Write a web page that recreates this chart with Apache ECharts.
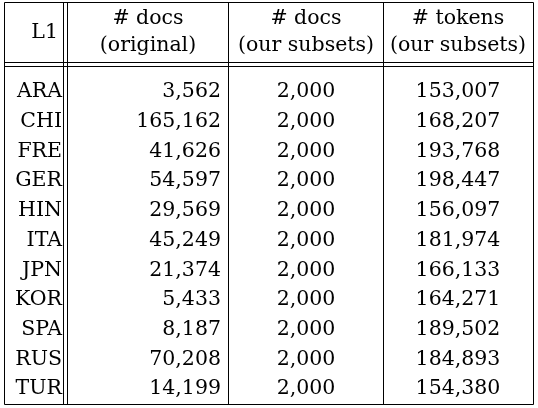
<!DOCTYPE html>
<html><head><meta charset="utf-8">
<script src="https://cdn.jsdelivr.net/npm/echarts@6/dist/echarts.min.js"></script>
<style>html,body{margin:0;padding:0;background:#fff}#c{width:538px;height:408px}</style>
</head><body><div id="c"></div>
<script>
const l1 = ['ARA','CHI','FRE','GER','HIN','ITA','JPN','KOR','SPA','RUS','TUR'];
const docsOriginal = ['3,562','165,162','41,626','54,597','29,569','45,249','21,374','5,433','8,187','70,208','14,199'];
const docsSubset = ['2,000','2,000','2,000','2,000','2,000','2,000','2,000','2,000','2,000','2,000','2,000'];
const tokensSubset = ['153,007','168,207','193,768','198,447','156,097','181,974','166,133','164,271','189,502','184,893','154,380'];
const headerLine1 = ['L1','# docs','# docs','# tokens'];
const headerLine2 = ['','(original)','(our subsets)','(our subsets)'];

const font = '20.5px "DejaVu Serif", "Liberation Serif", serif';
const anchors = [[62,'right'],[221,'right'],[306,'center'],[458,'center']];
const headerX = [58,148,306,458];
const cells = [];
const cols = [l1, docsOriginal, docsSubset, tokensSubset];
l1.forEach((_, r) => cols.forEach((c, ci) => cells.push([ci, r, c[r]])));

const chart = echarts.init(document.getElementById('c'), null, {renderer:'canvas'});
const lineStyle = {stroke:'#000', lineWidth:1};
const vx = [4.5, 63.5, 67.5, 228.5, 383.5, 533.5];
const hy = [2.5, 62.5, 66.5, 404.5];
const graphics = [];
vx.forEach(x => graphics.push({type:'line', shape:{x1:x,y1:2.5,x2:x,y2:404.5}, style:lineStyle}));
hy.forEach(y => graphics.push({type:'line', shape:{x1:4.5,y1:y,x2:533.5,y2:y}, style:lineStyle}));
headerLine1.forEach((t,i)=>{
  graphics.push({type:'text', x: headerX[i], y: headerLine2[i]? 19 : 33,
    style:{text:t, font:font, fill:'#000', textAlign: i===0?'right':'center', textVerticalAlign:'middle'}});
  if (headerLine2[i]) graphics.push({type:'text', x: headerX[i], y:46,
    style:{text:headerLine2[i], font:font, fill:'#000', textAlign:'center', textVerticalAlign:'middle'}});
});

chart.setOption({
  animation:false,
  grid:{left:0,right:0,top:77,bottom:4},
  xAxis:{type:'value',min:0,max:538,show:false},
  yAxis:{type:'category',data:l1,inverse:true,show:false},
  graphic: graphics,
  series:[{
    type:'custom',
    data:cells,
    renderItem:(params, api)=>{
      const ci = api.value(0);
      const p = api.coord([0, api.value(1)]);
      const a = anchors[ci];
      return {type:'text', x:a[0], y:p[1],
        style:{text: cells[params.dataIndex][2], font:font, fill:'#000', textAlign:a[1], textVerticalAlign:'middle'}};
    }
  }]
});
</script></body></html>
